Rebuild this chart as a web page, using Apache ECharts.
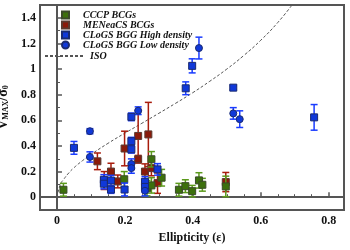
<!DOCTYPE html>
<html><head><meta charset="utf-8">
<script src="https://cdn.jsdelivr.net/npm/echarts@6/dist/echarts.min.js"></script>
<style>html,body{margin:0;padding:0;background:#fff}#c{width:350px;height:250px}</style>
</head><body><div id="c"></div>
<script>
// [x, y, error]
const cccp = [
  [0.019,0.058,0.05],[0.198,0.14,0.06],[0.265,0.07,0.06],[0.278,0.092,0.06],
  [0.278,0.296,0.06],[0.308,0.152,0.065],[0.359,0.058,0.05],[0.378,0.086,0.05],
  [0.398,0.047,0.045],[0.418,0.131,0.06],[0.428,0.097,0.05],[0.497,0.084,0.08]
];
const meneacs = [
  [0.119,0.28,0.065],[0.139,0.13,0.07],[0.159,0.2,0.065],[0.179,0.123,0.05],
  [0.199,0.38,0.135],[0.239,0.478,0.2],[0.239,0.296,0.03],[0.259,0.2,0.06],
  [0.269,0.49,0.25],[0.278,0.227,0.06],[0.296,0.11,0.08],[0.497,0.118,0.075]
];
const clogsHigh = [
  [0.05,0.385,0.05],[0.138,0.136,0.04],[0.138,0.105,0.04],[0.159,0.13,0.04],
  [0.159,0.06,0.03],[0.199,0.06,0.05],[0.219,0.627,0.03],[0.219,0.437,0.03],
  [0.219,0.374,0.03],[0.259,0.12,0.04],[0.259,0.08,0.04],[0.296,0.217,0.045],
  [0.379,0.85,0.05],[0.398,1.025,0.055],[0.519,0.855,0.015],[0.757,0.623,0.1]
];
const clogsLow = [
  [0.097,0.515,0.02],[0.097,0.314,0.04],[0.219,0.259,0.04],[0.219,0.227,0.04],
  [0.239,0.675,0.03],[0.259,0.05,0.04],[0.418,1.164,0.085],[0.519,0.654,0.045],
  [0.538,0.609,0.065]
];
const iso = [
  [0,0],[0.01,0.1],[0.02,0.14],[0.035,0.19],[0.05,0.23],[0.075,0.285],[0.1,0.333],
  [0.15,0.42],[0.2,0.5],[0.25,0.577],[0.3,0.655],[0.35,0.734],[0.4,0.816],
  [0.45,0.905],[0.5,1.0],[0.55,1.106],[0.6,1.225],[0.65,1.363],[0.692,1.5]
];
const markerNames = ['CCCP BCGs','MENeaCS BCGs','CLoGS BGG High density','CLoGS BGG Low density'];
const lineNames = ['ISO'];

const serif = '"Liberation Serif","DejaVu Serif",serif';
const legendText = { fontFamily: serif, fontStyle: 'italic', fontWeight: 'bold', fontSize: 10, color: '#111', lineHeight: 10 };

function errBars(id, data, color, z) {
  return {
    type: 'custom', id: id, name: id, silent: true, z: z,
    data: data.map(d => [d[0], d[1] - d[2], d[1] + d[2]]),
    encode: { x: 0, y: [1, 2] },
    renderItem: function (params, api) {
      const x = api.value(0);
      const lo = api.coord([x, api.value(1)]);
      const hi = api.coord([x, api.value(2)]);
      const w = 3.5;
      const st = { stroke: color, lineWidth: 1.5 };
      return { type: 'group', children: [
        { type: 'line', shape: { x1: lo[0], y1: lo[1], x2: hi[0], y2: hi[1] }, style: st },
        { type: 'line', shape: { x1: lo[0] - w, y1: lo[1], x2: lo[0] + w, y2: lo[1] }, style: st },
        { type: 'line', shape: { x1: hi[0] - w, y1: hi[1], x2: hi[0] + w, y2: hi[1] }, style: st }
      ]};
    }
  };
}
function pts(name, data, symbol, fill, border, z) {
  return {
    type: 'scatter', name: name, symbol: symbol, symbolSize: 7, z: z,
    data: data.map(d => [d[0], d[1]]),
    itemStyle: { color: fill, borderColor: border, borderWidth: 1, opacity: 1 }
  };
}

const chart = echarts.init(document.getElementById('c'), null, { renderer: 'canvas' });
chart.setOption({
  animation: false,
  grid: { left: 40, right: 6, top: 5, bottom: 40, outerBoundsMode: 'none', containLabel: false,
          show: true, borderColor: '#555', borderWidth: 2, backgroundColor: 'transparent' },
  legend: [
    {
      orient: 'vertical', left: 56, top: 5, itemWidth: 7, itemHeight: 7, itemGap: 0,
      textStyle: Object.assign({ padding: [0, 0, 0, 9] }, legendText),
      data: markerNames
    },
    {
      orient: 'vertical', left: 39, top: 46, itemWidth: 40, itemHeight: 7, itemGap: 0,
      textStyle: legendText,
      data: [{ name: 'ISO', itemStyle: { color: 'rgba(0,0,0,0)', borderColor: 'rgba(0,0,0,0)', borderWidth: 0, opacity: 0 } }]
    }
  ],
  xAxis: {
    type: 'value', min: -0.05, max: 0.845, splitNumber: 5,
    name: 'Ellipticity (ε)', nameLocation: 'middle', nameGap: 17,
    nameTextStyle: { fontFamily: serif, fontWeight: 'bold', fontSize: 12, color: '#111' },
    axisLine: { lineStyle: { color: '#555', width: 2 } },
    axisTick: { inside: true, length: 5, lineStyle: { color: '#555', width: 1.5 } },
    minorTick: { show: true, splitNumber: 4, length: 3, lineStyle: { color: '#555', width: 1 } },
    axisLabel: { showMinLabel: false, showMaxLabel: false, margin: 5, fontFamily: serif, fontWeight: 'bold', fontSize: 12, color: '#111' },
    splitLine: { show: false }
  },
  yAxis: {
    type: 'value', min: -0.1, max: 1.5, splitNumber: 8,
    name: '{v|V}{s|MAX}{v|/σ}{s|0}', nameLocation: 'middle', nameGap: 26, nameRotate: 90,
    nameTextStyle: {
      color: '#111',
      rich: {
        v: { fontFamily: serif, fontWeight: 'bold', fontSize: 14, color: '#111' },
        s: { fontFamily: serif, fontWeight: 'bold', fontSize: 8, color: '#111', verticalAlign: 'bottom', padding: [6, 0, 0, 0] }
      }
    },
    axisLine: { lineStyle: { color: '#555', width: 2 } },
    axisTick: { inside: true, length: 5, lineStyle: { color: '#555', width: 1.5 } },
    minorTick: { show: true, splitNumber: 2, length: 3, lineStyle: { color: '#555', width: 1 } },
    axisLabel: { showMinLabel: false, showMaxLabel: false, margin: 4, fontFamily: serif, fontWeight: 'bold', fontSize: 12, color: '#111' },
    splitLine: { show: false }
  },
  series: [
    { type: 'line', name: 'ISO', data: iso, symbol: 'none', showSymbol: false, smooth: true, z: 1,
      lineStyle: { color: '#555', width: 1, type: [3, 2] }, itemStyle: { color: '#555' } },
    errBars('errM', meneacs, '#a81c0c', 2),
    pts('MENeaCS BCGs', meneacs, 'rect', '#8a1a0a', '#5a3a30', 3),
    errBars('errC', cccp, '#5c9a1c', 4),
    pts('CCCP BCGs', cccp, 'rect', '#3c700c', '#3a4a2a', 5),
    errBars('errH', clogsHigh, '#1a3cff', 6),
    pts('CLoGS BGG High density', clogsHigh, 'rect', '#1038d8', '#1a2a70', 7),
    errBars('errL', clogsLow, '#1a3cff', 6),
    pts('CLoGS BGG Low density', clogsLow, 'circle', '#1038d8', '#1a2a70', 7)
  ]
});
</script></body></html>
